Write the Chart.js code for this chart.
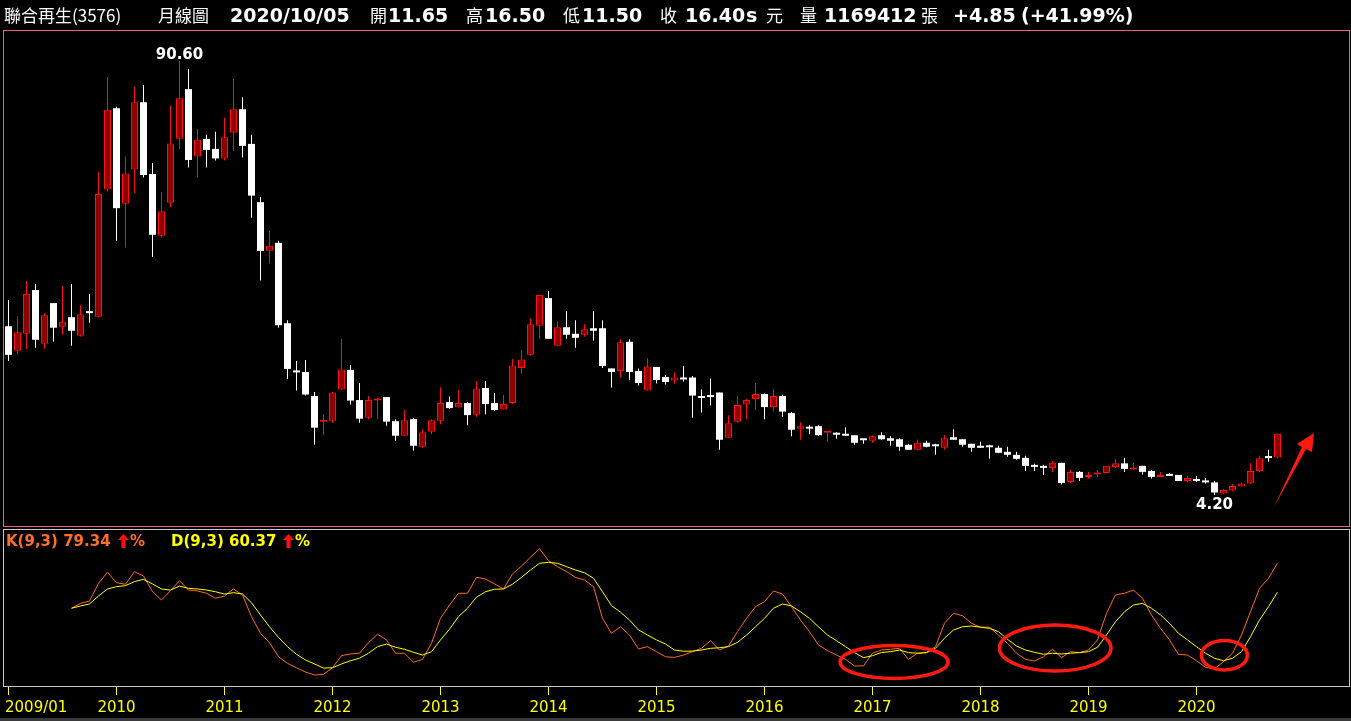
<!DOCTYPE html>
<html lang="zh-Hant">
<head>
<meta charset="utf-8">
<title>聯合再生(3576) 月線圖</title>
<script src="https://cdn.jsdelivr.net/npm/chart.js@4.4.1/dist/chart.umd.min.js"></script>
<style>
  html, body { margin: 0; padding: 0; background: #000; }
  body { position: relative; width: 1351px; height: 721px; overflow: hidden; }
  canvas { position: absolute; left: 0; }
  #priceChart { top: 0; }
  #kdChart { top: 521px; }
  .t { position: absolute; top: 4px; color: #fff; white-space: nowrap; line-height: 22px; }
  .cjk { font-family: "Noto Sans CJK TC", sans-serif; font-size: 17px; }
  .num { font-family: "DejaVu Sans", sans-serif; font-size: 19px; font-weight: bold; }
  .kd { position: absolute; top: 532px; font: bold 15px "DejaVu Sans", sans-serif; line-height: 18px; white-space: nowrap; }
  .up { position: absolute; top: 534px; }
  #scrollStrip { position: absolute; left: 0; top: 718px; width: 1351px; height: 3px; background: #3a3a3a; }
</style>
</head>
<body>
<canvas id="priceChart" width="1351" height="528"></canvas>
<canvas id="kdChart" width="1351" height="200"></canvas>
<div id="scrollStrip"></div>

<span class="t cjk" style="left:4px">聯合再生(3576)</span>
<span class="t cjk" style="left:158px">月線圖</span>
<span class="t num" style="left:230px">2020/10/05</span>
<span class="t cjk" style="left:370px">開</span><span class="t num" style="left:388px">11.65</span>
<span class="t cjk" style="left:466px">高</span><span class="t num" style="left:485px">16.50</span>
<span class="t cjk" style="left:563px">低</span><span class="t num" style="left:582px">11.50</span>
<span class="t cjk" style="left:660px">收</span><span class="t num" style="left:685px">16.40</span>
<span class="t num" style="left:746px">s</span><span class="t cjk" style="left:766px">元</span>
<span class="t cjk" style="left:800px">量</span><span class="t num" style="left:824px">1169412</span>
<span class="t cjk" style="left:921px">張</span>
<span class="t num" style="left:953px">+4.85</span><span class="t num" style="left:1021px">(+41.99%)</span>

<span class="kd" id="kLabel" style="left:6px;color:#ff6e28"></span>
<svg class="up" style="left:118px" width="11" height="14" viewBox="0 0 11 14"><polygon points="5.5,0 11,6 7.5,6 7.5,14 3.5,14 3.5,6 0,6" fill="#ff1010"/></svg>
<span class="kd" style="left:130px;color:#ff6e28">%</span>
<span class="kd" id="dLabel" style="left:171px;color:#ffff00"></span>
<svg class="up" style="left:283px" width="11" height="14" viewBox="0 0 11 14"><polygon points="5.5,0 11,6 7.5,6 7.5,14 3.5,14 3.5,6 0,6" fill="#ff1010"/></svg>
<span class="kd" style="left:295px;color:#ffff00">%</span>

<script>
// monthly candles, 2009/01 .. 2020/10 (index 0 = 2009/01)
const open = [37.8, 32.9, 36.3, 45.0, 34.3, 42.4, 37.7, 39.6, 35.9, 40.8,
  39.7, 65.0, 81.2, 62.2, 69.0, 82.4, 68.1, 55.8, 62.4, 75.1,
  85.0, 71.6, 75.1, 73.1, 71.2, 76.3, 81.0, 74.1, 62.5, 52.8,
  54.4, 38.4, 29.0, 28.7, 23.9, 18.8, 19.0, 25.2, 29.1, 23.1,
  19.6, 23.0, 23.7, 18.9, 16.0, 19.3, 13.8, 16.8, 19.0, 22.7,
  21.6, 22.5, 20.2, 25.5, 22.5, 21.2, 22.5, 29.5, 32.1, 37.9,
  43.4, 33.9, 37.6, 36.3, 36.1, 37.4, 37.4, 29.4, 28.9, 34.7,
  28.9, 25.0, 29.7, 27.7, 27.0, 27.6, 27.6, 23.9, 24.1, 24.6,
  15.6, 18.8, 22.2, 23.3, 24.3, 21.7, 23.9, 20.5, 17.4, 17.8,
  17.9, 16.6, 16.5, 16.3, 16.1, 15.2, 15.0, 16.1, 15.5, 15.3,
  14.2, 13.2, 14.6, 14.0, 13.6, 15.7, 15.3, 14.4, 14.0, 14.0,
  13.6, 12.8, 12.2, 11.6, 10.2, 10.0, 9.6, 10.6, 6.8, 8.8,
  7.8, 8.3, 8.6, 9.8, 10.5, 9.3, 10.0, 9.0, 7.8, 8.4,
  8.2, 7.0, 7.4, 7.1, 6.7, 4.5, 5.1, 5.9, 6.5, 9.0,
  11.6, 11.65];
const high = [43.0, 39.8, 46.8, 46.2, 40.4, 42.4, 45.8, 46.2, 42.0, 44.2,
  68.5, 87.4, 81.5, 71.6, 85.4, 85.8, 70.3, 64.5, 81.7, 90.6,
  89.0, 77.1, 75.9, 76.5, 79.3, 87.0, 83.4, 75.9, 63.5, 56.8,
  54.8, 39.0, 30.9, 31.1, 24.7, 20.3, 24.7, 35.3, 30.1, 26.5,
  23.9, 23.5, 23.7, 19.3, 21.1, 19.6, 17.3, 19.3, 25.6, 23.8,
  25.1, 22.7, 26.9, 26.9, 24.5, 24.1, 31.3, 33.1, 39.4, 44.0,
  44.8, 38.8, 40.8, 39.0, 38.2, 40.8, 39.0, 29.4, 35.2, 35.2,
  29.4, 31.4, 29.7, 28.1, 28.6, 29.9, 27.9, 25.2, 27.4, 24.6,
  20.1, 23.9, 23.3, 26.5, 24.4, 25.3, 24.2, 20.7, 18.7, 18.1,
  18.1, 16.7, 16.7, 17.7, 16.1, 15.3, 16.1, 16.7, 15.9, 15.5,
  14.4, 15.2, 15.0, 14.4, 16.1, 17.3, 15.3, 14.4, 14.8, 14.2,
  14.0, 13.8, 12.8, 12.0, 10.4, 10.2, 11.0, 10.6, 9.2, 9.0,
  8.8, 9.2, 10.0, 11.4, 11.6, 10.6, 10.0, 9.2, 8.8, 8.6,
  8.2, 8.0, 8.0, 7.6, 7.0, 5.4, 6.4, 6.7, 10.5, 12.0,
  13.2, 16.5];
const low = [30.9, 32.1, 33.3, 33.5, 33.3, 34.7, 36.1, 33.9, 35.7, 38.5,
  39.6, 64.6, 54.8, 53.4, 64.3, 67.4, 51.6, 55.4, 61.6, 73.1,
  69.4, 67.4, 69.4, 70.8, 70.8, 72.7, 71.4, 59.4, 46.9, 50.3,
  37.5, 27.3, 25.0, 24.0, 14.2, 16.1, 18.6, 25.1, 22.2, 18.6,
  19.3, 19.4, 18.0, 15.0, 16.0, 13.0, 13.6, 16.3, 18.3, 21.3,
  21.6, 18.1, 19.8, 20.3, 20.9, 21.2, 22.3, 28.3, 31.9, 35.3,
  35.3, 33.9, 35.3, 33.5, 35.7, 34.9, 29.5, 25.6, 27.6, 27.1,
  26.0, 25.0, 26.4, 26.2, 26.4, 26.8, 19.6, 20.6, 22.0, 13.2,
  15.6, 18.6, 19.3, 21.1, 19.3, 20.8, 19.8, 15.9, 15.2, 16.3,
  15.9, 14.8, 15.4, 16.0, 14.2, 14.4, 14.6, 15.2, 14.0, 13.0,
  13.2, 13.2, 13.7, 12.2, 13.2, 15.2, 13.8, 12.8, 13.6, 11.4,
  12.5, 11.8, 11.2, 9.0, 9.0, 8.2, 8.8, 6.3, 6.6, 7.0,
  7.4, 7.8, 8.6, 9.6, 8.8, 9.2, 8.3, 7.5, 7.8, 8.0,
  7.0, 6.8, 6.8, 6.5, 4.2, 4.4, 4.9, 5.9, 6.4, 8.8,
  10.8, 11.5];
const close = [32.1, 36.6, 44.2, 35.1, 40.0, 37.5, 38.7, 36.9, 40.2, 40.8,
  64.1, 80.9, 61.3, 68.2, 82.4, 67.9, 56.0, 60.7, 74.2, 83.2,
  70.9, 74.9, 72.9, 71.2, 75.4, 81.0, 73.7, 63.8, 52.8, 53.8,
  38.0, 29.3, 29.0, 24.2, 17.6, 19.1, 24.6, 29.2, 23.0, 19.4,
  23.1, 23.1, 18.8, 16.0, 19.1, 14.0, 16.7, 19.1, 22.5, 21.5,
  22.5, 20.1, 25.4, 22.3, 21.1, 22.3, 30.0, 31.2, 38.2, 44.0,
  35.3, 37.6, 36.1, 35.5, 37.2, 36.9, 29.9, 28.7, 34.6, 28.7,
  26.5, 29.8, 27.1, 26.7, 27.6, 27.6, 24.0, 23.9, 24.1, 15.2,
  18.5, 22.1, 23.1, 24.3, 21.7, 23.9, 20.8, 17.2, 17.9, 17.8,
  16.1, 16.7, 16.2, 16.0, 14.6, 15.1, 15.9, 15.3, 15.0, 13.8,
  13.2, 14.6, 13.8, 13.9, 15.5, 15.2, 14.2, 13.6, 14.0, 13.7,
  12.6, 12.2, 11.4, 10.0, 9.8, 9.6, 10.6, 6.6, 8.8, 7.6,
  8.2, 8.7, 10.0, 10.5, 9.4, 9.7, 8.8, 7.8, 8.2, 8.0,
  7.0, 7.6, 7.4, 7.1, 4.7, 5.2, 6.0, 6.5, 9.0, 11.5,
  11.55, 16.4];

// KD(9,3), first value at month index 7
const kdStart = 7;
const kVals = [49.9, 53.1, 54.6,
  66.2, 73.4, 66.6, 65.6, 73.8, 71.0, 60.7, 55.3, 61.4, 67.9,
  61.8, 61.2, 59.7, 56.4, 57.9, 62.5, 58.6, 44.4, 33.5, 27.4,
  18.2, 13.9, 11.0, 8.2, 6.3, 6.7, 11.0, 18.9, 20.0, 20.5,
  27.4, 32.9, 29.2, 20.5, 20.5, 14.6, 16.5, 27.0, 43.3, 52.0,
  59.7, 59.7, 70.1, 69.0, 65.8, 62.5, 72.3, 77.5, 83.2, 88.8,
  81.0, 77.1, 73.8, 70.1, 68.4, 64.0, 43.3, 33.5, 37.8, 32.4,
  23.3, 24.8, 21.5, 18.2, 17.8, 19.3, 21.5, 23.7, 28.7, 22.6,
  25.2, 34.6, 43.3, 50.9, 54.2, 61.2, 59.2, 50.9, 42.2, 34.6,
  25.9, 22.2, 19.3, 16.5, 12.2, 12.2, 20.5, 22.6, 23.1, 23.7,
  16.5, 20.5, 20.9, 24.8, 40.1, 46.6, 45.0, 40.1, 37.5, 37.5,
  32.4, 27.0, 20.5, 16.5, 15.4, 18.2, 23.1, 17.6, 21.5, 20.9,
  22.6, 29.2, 46.6, 58.6, 59.7, 61.8, 56.4, 45.5, 36.8, 29.2,
  19.8, 19.3, 15.6, 11.3, 10.2, 15.0, 20.5, 32.4, 47.6, 62.9,
  69.5, 79.34];
const dVals = [49.9, 51.4, 52.7,
  57.9, 62.5, 64.0, 64.7, 67.3, 68.8, 65.8, 62.5, 61.8, 64.4,
  62.9, 62.5, 61.8, 60.7, 59.2, 60.1, 59.2, 53.5, 45.5, 37.8,
  30.9, 24.8, 19.8, 16.1, 13.5, 10.8, 11.0, 13.5, 15.6, 17.2,
  20.5, 24.8, 26.5, 24.4, 23.1, 21.1, 19.3, 21.5, 29.2, 36.2,
  44.4, 49.9, 57.1, 60.7, 62.3, 62.5, 65.6, 70.1, 74.9, 79.3,
  79.9, 79.3, 77.1, 74.9, 73.1, 69.5, 60.7, 51.6, 47.3, 42.2,
  35.7, 32.4, 29.2, 26.5, 22.6, 21.8, 21.9, 22.6, 23.7, 24.1,
  24.8, 27.6, 32.4, 37.8, 43.3, 49.9, 52.7, 51.4, 47.6, 43.3,
  37.8, 32.4, 28.7, 24.8, 20.9, 17.6, 18.9, 21.0, 21.5, 22.6,
  20.9, 20.5, 20.9, 23.7, 30.3, 35.7, 37.8, 38.3, 37.5, 36.8,
  34.6, 29.6, 25.2, 22.6, 21.1, 19.8, 20.5, 20.0, 20.5, 20.9,
  21.5, 24.4, 32.4, 41.1, 47.6, 52.0, 53.1, 49.9, 45.5, 40.1,
  33.5, 29.2, 24.8, 20.5, 17.2, 15.6, 17.2, 21.5, 31.3, 42.2,
  50.9, 60.37];

// x axis ticks (month index -> label)
const yearTickIdx = [0, 12, 24, 36, 48, 60, 72, 84, 96, 108, 120, 132];
const yearTickLabels = ['2009/01', '2010', '2011', '2012', '2013', '2014', '2015', '2016', '2017', '2018', '2019', '2020'];

// hand drawn marks, in (month index, value) space
const circledZones = [[98.4, 14.8, 6.0, 10.8], [116.3, 23.9, 6.2, 15.0], [135.1, 19.2, 2.55, 9.6]];
const arrowShape = [[140.61, 1.81], [143.72, 13.76], [143.17, 14.35], [145.06, 16.54], [144.83, 12.76], [144.17, 13.36]];

const UP_FILL = '#8c0000';
const UP_LINE = '#ff1010';
const DOWN = '#ffffff';
const K_COLOR = '#ff6a20';
const D_COLOR = '#ffff00';
const MARK_RED = '#ff1a10';

const isUp = i => close[i] > open[i];
const bodies = open.map((o, i) => ({ x: i, y: [o, close[i]] }));
const wicks = open.map((o, i) => ({ x: i, y: [low[i], high[i]] }));
const kPts = kVals.map((v, n) => ({ x: n + kdStart, y: v }));
const dPts = dVals.map((v, n) => ({ x: n + kdStart, y: v }));

document.getElementById('kLabel').textContent = 'K(9,3) ' + kVals[kVals.length - 1].toFixed(2);
document.getElementById('dLabel').textContent = 'D(9,3) ' + dVals[dVals.length - 1].toFixed(2);

const monthAxis = () => ({ type: 'linear', display: false, offset: false, min: -0.6111, max: 149.0556 });

const panelFrame = (id, color) => ({
    id: id,
    afterDraw(chart) {
        const { ctx, chartArea: a } = chart;
        ctx.save();
        ctx.strokeStyle = color;
        ctx.lineWidth = 1;
        ctx.strokeRect(a.left + 0.5, a.top + 0.5, a.right - a.left - 1, a.bottom - a.top);
        ctx.restore();
    }
});

const priceNotes = {
    id: 'priceNotes',
    afterDatasetsDraw(chart) {
        const { ctx, scales: { x, y } } = chart;
        const hi = high.indexOf(Math.max(...high));
        const lo = low.indexOf(Math.min(...low));
        ctx.save();
        ctx.font = 'bold 15px "DejaVu Sans"';
        ctx.fillStyle = '#ffffff';
        ctx.textAlign = 'center';
        ctx.textBaseline = 'alphabetic';
        ctx.fillText(high[hi].toFixed(2), x.getPixelForValue(hi), y.getPixelForValue(high[hi]) - 2);
        ctx.textBaseline = 'top';
        ctx.fillText(low[lo].toFixed(2), x.getPixelForValue(lo), y.getPixelForValue(low[lo]) + 3);

        ctx.fillStyle = MARK_RED;
        ctx.beginPath();
        arrowShape.forEach(([i, p], n) => {
            const px = x.getPixelForValue(i), py = y.getPixelForValue(p);
            if (n) ctx.lineTo(px, py); else ctx.moveTo(px, py);
        });
        ctx.closePath();
        ctx.fill();
        ctx.restore();
    }
};

const kdNotes = {
    id: 'kdNotes',
    afterDatasetsDraw(chart) {
        const { ctx, scales: { x, y } } = chart;
        ctx.save();
        ctx.strokeStyle = MARK_RED;
        ctx.lineWidth = 3.5;
        circledZones.forEach(([ci, cv, ri, rv]) => {
            const cx = x.getPixelForValue(ci), cy = y.getPixelForValue(cv);
            const rx = Math.abs(x.getPixelForValue(ci + ri) - cx);
            const ry = Math.abs(y.getPixelForValue(cv + rv) - cy);
            ctx.beginPath();
            ctx.ellipse(cx, cy, rx, ry, 0, 0, Math.PI * 2);
            ctx.stroke();
        });
        ctx.restore();
    }
};

const timeLabels = {
    id: 'timeLabels',
    afterDraw(chart) {
        const { ctx, chartArea: a, scales: { x } } = chart;
        ctx.save();
        ctx.strokeStyle = '#ffff00';
        ctx.fillStyle = '#ffff00';
        ctx.lineWidth = 1;
        ctx.font = '15px "DejaVu Sans"';
        ctx.textBaseline = 'middle';
        ctx.textAlign = 'left';
        yearTickIdx.forEach((v, n) => {
            const px = Math.floor(x.getPixelForValue(v)) + 0.5;
            ctx.beginPath();
            ctx.moveTo(px, a.bottom + 1);
            ctx.lineTo(px, a.bottom + 9);
            ctx.stroke();
            const label = yearTickLabels[n];
            const w = ctx.measureText(label).width;
            ctx.fillText(label, Math.max(a.left + 2, px - w / 2), a.bottom + 22);
        });
        ctx.restore();
    }
};

Chart.defaults.font.family = '"DejaVu Sans", sans-serif';

new Chart(document.getElementById('priceChart'), {
    type: 'bar',
    data: {
        datasets: [
            {
                data: bodies,
                grouped: false,
                order: 0,
                barThickness: 7,
                minBarLength: 2,
                inflateAmount: 0,
                borderSkipped: false,
                backgroundColor: open.map((_, i) => isUp(i) ? UP_FILL : DOWN),
                borderColor: open.map((_, i) => isUp(i) ? UP_LINE : DOWN),
                borderWidth: open.map((_, i) => isUp(i) ? 1 : 0),
            },
            {
                data: wicks,
                grouped: false,
                order: 1,
                barThickness: 1,
                minBarLength: 1,
                inflateAmount: 0,
                borderWidth: 0,
                backgroundColor: open.map((_, i) => isUp(i) ? UP_LINE : DOWN),
            }
        ]
    },
    options: {
        animation: false,
        responsive: false,
        devicePixelRatio: 1,
        layout: { padding: { left: 3, right: 1, top: 30, bottom: 2 } },
        scales: {
            x: monthAxis(),
            y: { type: 'linear', display: false, min: -1.97, max: 96.77 },
        },
        plugins: {
            legend: { display: false },
            tooltip: { enabled: false },
        }
    },
    plugins: [panelFrame('priceFrame', '#ee5aa0'), priceNotes]
});

new Chart(document.getElementById('kdChart'), {
    type: 'line',
    data: {
        datasets: [
            { data: dPts, borderColor: D_COLOR, borderWidth: 1, pointRadius: 0, tension: 0 },
            { data: kPts, borderColor: K_COLOR, borderWidth: 1, pointRadius: 0, tension: 0 },
        ]
    },
    options: {
        animation: false,
        responsive: false,
        devicePixelRatio: 1,
        layout: { padding: { left: 3, right: 1, top: 8, bottom: 35 } },
        scales: {
            x: monthAxis(),
            y: { type: 'linear', display: false, min: -0.92, max: 101.7 },
        },
        plugins: {
            legend: { display: false },
            tooltip: { enabled: false },
        }
    },
    plugins: [panelFrame('kdFrame', '#c8c8c8'), kdNotes, timeLabels]
});
</script>
</body>
</html>
